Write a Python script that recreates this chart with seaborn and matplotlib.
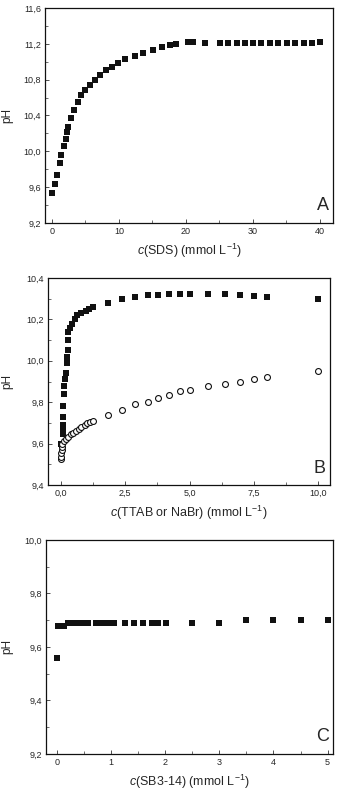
import matplotlib
matplotlib.use('Agg')
import matplotlib.pyplot as plt
import seaborn as sns
import pandas as pd
from matplotlib.ticker import FuncFormatter, AutoMinorLocator, MultipleLocator

# panel A: SDS
sds_c = [0.0, 0.45, 0.75, 1.2, 1.4, 1.8, 2.1, 2.3, 2.4, 2.8, 3.3, 3.9, 4.4, 5.0, 5.7, 6.4,
         7.2, 8.1, 8.9, 9.9, 10.9, 12.4, 13.6, 15.1, 16.4, 17.6, 18.6, 20.3, 21.0, 22.8,
         25.1, 26.3, 27.6, 28.8, 30.1, 31.3, 32.6, 33.8, 35.1, 36.3, 37.6, 38.8, 40.1]
sds_ph = [9.53, 9.64, 9.74, 9.87, 9.96, 10.06, 10.14, 10.22, 10.27, 10.37, 10.46, 10.55,
          10.63, 10.68, 10.74, 10.80, 10.85, 10.91, 10.94, 10.99, 11.03, 11.06, 11.10,
          11.13, 11.16, 11.19, 11.20, 11.22, 11.22, 11.21, 11.21, 11.21, 11.21, 11.21,
          11.21, 11.21, 11.21, 11.21, 11.21, 11.21, 11.21, 11.21, 11.22]

# panel B: TTAB (filled) and NaBr (open)
ttab_c = [0.0, 0.07, 0.08, 0.09, 0.09, 0.09, 0.13, 0.13, 0.16, 0.18, 0.22, 0.22, 0.26,
          0.29, 0.29, 0.35, 0.45, 0.54, 0.63, 0.80, 0.97, 1.10, 1.23, 1.84, 2.36, 2.88,
          3.37, 3.79, 4.2, 4.63, 5.0, 5.73, 6.38, 6.97, 7.5, 8.0, 10.0]
ttab_ph = [9.60, 9.645, 9.67, 9.69, 9.73, 9.78, 9.84, 9.88, 9.91, 9.94, 9.99, 10.02, 10.05,
           10.10, 10.14, 10.16, 10.18, 10.20, 10.22, 10.23, 10.24, 10.25, 10.26, 10.28,
           10.30, 10.31, 10.32, 10.32, 10.325, 10.325, 10.325, 10.325, 10.325, 10.32,
           10.315, 10.31, 10.30]
nabr_c = [0.0, 0.0, 0.0, 0.03, 0.03, 0.06, 0.12, 0.19, 0.28, 0.38, 0.48, 0.58, 0.70, 0.80,
          0.93, 1.02, 1.13, 1.26, 1.84, 2.36, 2.88, 3.37, 3.79, 4.2, 4.63, 5.0, 5.73,
          6.38, 6.97, 7.5, 8.0, 10.0]
nabr_ph = [9.525, 9.537, 9.553, 9.57, 9.585, 9.60, 9.614, 9.62, 9.634, 9.645, 9.653, 9.66,
           9.67, 9.68, 9.69, 9.70, 9.706, 9.71, 9.74, 9.76, 9.79, 9.80, 9.82, 9.835,
           9.855, 9.86, 9.88, 9.89, 9.90, 9.91, 9.92, 9.95]

# panel C: SB3-14
sb_c = [0.0, 0.03, 0.08, 0.14, 0.21, 0.28, 0.34, 0.40, 0.46, 0.52, 0.58, 0.72, 0.83, 0.95,
        1.06, 1.25, 1.43, 1.60, 1.75, 1.87, 2.01, 2.5, 3.0, 3.5, 4.0, 4.5, 5.0]
sb_ph = [9.56, 9.68, 9.68, 9.68, 9.69, 9.69, 9.69, 9.69, 9.69, 9.69, 9.69, 9.69, 9.69,
         9.69, 9.69, 9.69, 9.69, 9.69, 9.69, 9.69, 9.69, 9.69, 9.69, 9.70, 9.70, 9.70, 9.70]

sns.set_style('white')
plt.rcParams['font.family'] = ['Liberation Sans', 'DejaVu Sans']
plt.rcParams['mathtext.fontset'] = 'custom'
plt.rcParams['mathtext.it'] = 'Liberation Sans:italic'
plt.rcParams['mathtext.rm'] = 'Liberation Sans'

fig = plt.figure(figsize=(3.37, 7.95), dpi=100)
W, H = 337, 795
def add_ax(l, r, t, b):
    return fig.add_axes([l / W, 1 - b / H, (r - l) / W, (b - t) / H])

axA = add_ax(45, 333, 8, 223)
axB = add_ax(48, 330, 278, 485)
axC = add_ax(46, 333, 540, 754)

comma = FuncFormatter(lambda v, p: ('%g' % v).replace('.', ','))
comma1 = FuncFormatter(lambda v, p: ('%.1f' % v).replace('.', ','))

sns.scatterplot(x=sds_c, y=sds_ph, marker='s', color='#111111', s=22, linewidth=0, ax=axA)
sns.scatterplot(x=ttab_c, y=ttab_ph, marker='s', color='#111111', s=22, linewidth=0, ax=axB)
sns.scatterplot(x=nabr_c, y=nabr_ph, marker='o', facecolor='white', edgecolor='#111111',
                s=18, linewidth=0.8, ax=axB)
sns.scatterplot(x=sb_c, y=sb_ph, marker='s', color='#111111', s=22, linewidth=0, ax=axC)

axA.set_xlim(-1.05, 42)
axA.set_ylim(9.2, 11.6)
axA.xaxis.set_major_locator(MultipleLocator(10))
axA.yaxis.set_major_locator(MultipleLocator(0.4))
axA.yaxis.set_major_formatter(comma1)
axA.xaxis.set_major_formatter(comma)
axA.set_xlabel(r'$c$(SDS) (mmol L$^{-1}$)')

axB.set_xlim(-0.5, 10.45)
axB.set_ylim(9.4, 10.4)
axB.xaxis.set_major_locator(MultipleLocator(2.5))
axB.yaxis.set_major_locator(MultipleLocator(0.2))
axB.yaxis.set_major_formatter(comma1)
axB.xaxis.set_major_formatter(comma1)
axB.set_xlabel(r'$c$(TTAB or NaBr) (mmol L$^{-1}$)')

axC.set_xlim(-0.2, 5.1)
axC.set_ylim(9.2, 10.0)
axC.xaxis.set_major_locator(MultipleLocator(1))
axC.yaxis.set_major_locator(MultipleLocator(0.2))
axC.yaxis.set_major_formatter(comma1)
axC.xaxis.set_major_formatter(comma)
axC.set_xlabel(r'$c$(SB3-14) (mmol L$^{-1}$)')

for ax, letter, left in [(axA, 'A', 45), (axB, 'B', 48), (axC, 'C', 46)]:
    ax.set_ylabel('pH', fontsize=8.5)
    ax.xaxis.label.set_size(9)
    ax.xaxis.set_minor_locator(AutoMinorLocator(2))
    ax.yaxis.set_minor_locator(AutoMinorLocator(2))
    ax.tick_params(which='both', direction='in', bottom=True, left=True, top=False,
                   right=False, labelsize=6.5, pad=3, color='#333333')
    ax.tick_params(which='major', length=3, width=0.6)
    ax.tick_params(which='minor', length=2, width=0.5)
    for sp in ax.spines.values():
        sp.set_linewidth(0.9)
        sp.set_color('#111111')
    ax.text(0.985, 0.04, letter, transform=ax.transAxes, ha='right', va='bottom', fontsize=13)
    # put the pH label so that its right side sits about 13 px from the figure edge
    ax.yaxis.set_label_coords((13 - left) / 288, 0.5)

fig.savefig('out.png', dpi=100)
